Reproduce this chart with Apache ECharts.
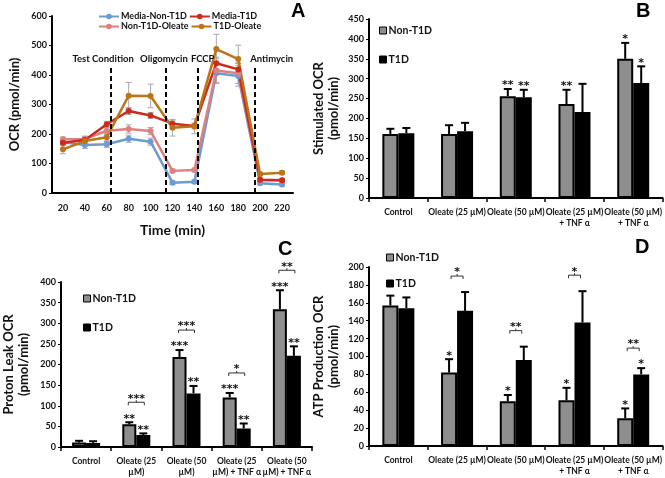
<!DOCTYPE html>
<html><head><meta charset="utf-8">
<script src="https://cdn.jsdelivr.net/npm/echarts@6/dist/echarts.min.js"></script>
<style>html,body{margin:0;padding:0;background:#fff}#c{width:665px;height:478px}</style>
</head><body><div id="c"></div>
<script>
// ---------- Panel A data ----------
const times = [20, 40, 60, 80, 100, 120, 140, 160, 180, 200, 220];
const mediaNonT1D   = [172, 163, 165, 184, 174, 35, 38, 406, 397, 33, 29];
const mediaT1D      = [170, 180, 233, 278, 263, 235, 227, 440, 419, 45, 43];
const nonT1DOleate  = [182, 183, 211, 217, 210, 75, 78, 415, 406, 44, 42];
const t1dOleate     = [148, 176, 189, 330, 329, 221, 226, 488, 454, 64, 69];
const errMediaNonT1D  = [8, 12, 10, 12, 12, 6, 6, 35, 35, 5, 5];
const errMediaT1D     = [8, 10, 10, 12, 10, 10, 10, 20, 20, 5, 5];
const errNonT1DOleate = [8, 10, 12, 14, 12, 6, 6, 40, 35, 5, 5];
const errT1dOleate    = [15, 12, 12, 45, 40, 28, 25, 50, 47, 6, 6];
const phaseTimes = [64, 114, 143, 195];
const phaseNames = ['Test Condition', 'Oligomycin', 'FCCP', 'Antimycin'];
const phaseLineTop = 425;

// ---------- Bar panels ----------
const conditions = ['Control', 'Oleate (25 µM)', 'Oleate (50 µM)', 'Oleate (25 µM)\n+ TNF α', 'Oleate (50 µM)\n+ TNF α'];
const conditionsC = ['Control', 'Oleate (25\nµM)', 'Oleate (50\nµM)', 'Oleate (25\nµM) + TNF α', 'Oleate (50\nµM) + TNF α'];

// B: Stimulated OCR
const stimNonT1D = [161, 161, 256, 236, 350];
const stimT1D    = [163, 168, 253, 216, 289];
const stimErrNon = [13, 22, 18, 36, 40];
const stimErrT1D = [13, 21, 19, 71, 42];
const stimStarsNon = ['', '', '**', '**', '*'];
const stimStarsT1D = ['', '', '**', '', '*'];

// C: Proton leak OCR
const leakNonT1D = [11, 55, 218, 120, 334];
const leakT1D    = [10, 29, 130, 45, 221];
const leakErrNon = [4, 5, 17, 11, 46];
const leakErrT1D = [4, 4, 18, 12, 23];
const leakStarsNon = ['', '**', '***', '***', '***'];
const leakStarsT1D = ['', '**', '**', '**', '**'];
const leakBrackets = ['', '***', '***', '*', '**'];

// D: ATP production OCR
const atpNonT1D = [157, 82, 50, 51, 31];
const atpT1D    = [154, 151, 96, 138, 80];
const atpErrNon = [11, 15, 7, 14, 11];
const atpErrT1D = [12, 21, 15, 35, 7];
const atpStarsNon = ['', '*', '*', '*', '*'];
const atpStarsT1D = ['', '', '', '', '*'];
const atpBrackets = ['', '*', '**', '*', '**'];

// ---------- styles ----------
const FONT = 'Lato';
const STAR_FONT = 'bold 11px "DejaVu Sans"';
const C_BLUE = '#6a9bd2', C_RED = '#cc2a1c', C_PINK = '#df8080', C_BROWN = '#bd7418';
const GRAY = '#8e8e8e';

function lineSeries(name, vals, color) {
  return {
    type: 'line', name, xAxisIndex: 0, yAxisIndex: 0, z: 3,
    data: times.map((t, i) => [t, vals[i]]),
    symbol: 'circle', symbolSize: 6,
    lineStyle: { color, width: 2.5 }, itemStyle: { color }
  };
}
function lineErr(vals, errs) {
  return {
    type: 'custom', xAxisIndex: 0, yAxisIndex: 0, z: 2, silent: true,
    data: times.map((t, i) => [t, vals[i] - errs[i], vals[i] + errs[i]]),
    renderItem(params, api) {
      const lo = api.coord([api.value(0), api.value(1)]);
      const hi = api.coord([api.value(0), api.value(2)]);
      const st = { stroke: '#a9a9a9', lineWidth: 1 };
      return { type: 'group', children: [
        { type: 'line', shape: { x1: lo[0], y1: lo[1], x2: hi[0], y2: hi[1] }, style: st },
        { type: 'line', shape: { x1: hi[0] - 3, y1: hi[1], x2: hi[0] + 3, y2: hi[1] }, style: st },
        { type: 'line', shape: { x1: lo[0] - 3, y1: lo[1], x2: lo[0] + 3, y2: lo[1] }, style: st }
      ]};
    }
  };
}

function barSeries(name, ax, vals, color, bw) {
  return {
    type: 'bar', name, xAxisIndex: ax, yAxisIndex: ax, data: vals,
    barWidth: bw, barGap: '0%',
    itemStyle: { color, borderColor: '#000', borderWidth: 2 }
  };
}
function barErr(ax, vals, errs, stars, offset) {
  return {
    type: 'custom', xAxisIndex: ax, yAxisIndex: ax, z: 5, silent: true,
    data: vals.map((v, i) => [i, v, v + errs[i]]),
    renderItem(params, api) {
      const b = api.coord([api.value(0), api.value(1)]);
      const t = api.coord([api.value(0), api.value(2)]);
      const x = b[0] + offset;
      const st = { stroke: '#000', lineWidth: 2 };
      const ch = [
        { type: 'line', shape: { x1: x, y1: b[1], x2: x, y2: t[1] }, style: st },
        { type: 'line', shape: { x1: x - 4, y1: t[1], x2: x + 4, y2: t[1] }, style: st }
      ];
      const s = stars[params.dataIndex];
      if (s) ch.push({ type: 'text', x: x, y: t[1] + 2,
        style: { text: s, textAlign: 'center', textVerticalAlign: 'bottom', font: STAR_FONT, fill: '#111' } });
      return { type: 'group', children: ch };
    }
  };
}
function bracketSeries(ax, non, errN, starN, t1d, errT, starT, texts, half) {
  return {
    type: 'custom', xAxisIndex: ax, yAxisIndex: ax, z: 6, silent: true,
    data: non.map((v, i) => [i, v + errN[i], t1d[i] + errT[i]]),
    renderItem(params, api) {
      const i = params.dataIndex;
      if (!texts[i]) return null;
      const a = api.coord([i, api.value(1)]);
      const b = api.coord([i, api.value(2)]);
      const ha = a[1] - (starN[i] ? 17 : 0);
      const hb = b[1] - (starT[i] ? 17 : 0);
      const starred = ha < hb ? !!starN[i] : !!starT[i];
      const y = Math.min(ha, hb) - (starred ? 3 : 16);
      const xc = a[0];
      const st = { stroke: '#333', lineWidth: 1, fill: null };
      return { type: 'group', children: [
        { type: 'polyline', shape: { points: [[xc - half, y + 3], [xc - half, y], [xc + half, y], [xc + half, y + 3]] }, style: st },
        { type: 'line', shape: { x1: xc, y1: y, x2: xc, y2: y - 2 }, style: st },
        { type: 'text', x: xc, y: y + 2, style: { text: texts[i], textAlign: 'center', textVerticalAlign: 'bottom', font: STAR_FONT, fill: '#111' } }
      ]};
    }
  };
}

const axisText = { color: '#111', fontWeight: 'bold', fontFamily: FONT };
function yAx(grid, max, interval, name, gap) {
  return {
    type: 'value', gridIndex: grid, min: 0, max, interval,
    name, nameLocation: 'middle', nameGap: gap,
    nameTextStyle: { color: '#111', fontWeight: 'bold', fontFamily: FONT, fontSize: 13, lineHeight: 15 },
    axisLine: { show: true, lineStyle: { color: '#000', width: 2 } },
    axisTick: { show: true, length: 3, lineStyle: { color: '#000' } },
    splitLine: { show: false },
    axisLabel: Object.assign({ fontSize: 9, margin: 5 }, axisText)
  };
}
function xCat(grid, cats) {
  return {
    type: 'category', gridIndex: grid, data: cats,
    axisLine: { lineStyle: { color: '#000', width: 2 } },
    axisTick: { show: true, length: 4, lineStyle: { color: '#000', width: 1.5 } },
    axisLabel: Object.assign({ fontSize: 8.5, interval: 0, margin: 9, lineHeight: 11 }, axisText)
  };
}
function barLegend(left, top, gap) {
  return {
    data: ['Non-T1D', 'T1D'], orient: 'vertical', left, top, itemGap: gap,
    itemWidth: 7, itemHeight: 7, icon: 'rect', itemStyle: { borderWidth: 1 },
    textStyle: { fontSize: 10.5, fontWeight: 'bold', fontFamily: FONT, color: '#111', padding: [0, 0, 0, -3] }
  };
}

const markLineData = phaseTimes.map((t, i) => [
  { coord: [t, 0], symbol: 'none' },
  { coord: [t, phaseLineTop], symbol: 'none',
    label: { show: true, position: 'end', formatter: phaseNames[i], offset: [[-8, -2, 5, 17][i], 0] } }
]);

const legendText = { fontSize: 9, fontWeight: 'bold', fontFamily: FONT, color: '#111', width: 84, padding: [0, 0, 0, -3] };

const option = {
  animation: false,
  textStyle: { fontFamily: FONT },
  graphic: [
    { type: 'text', left: 291, top: 1, style: { text: 'A', font: 'bold 20px "Liberation Sans"', fill: '#000' } },
    { type: 'text', left: 636, top: 1, style: { text: 'B', font: 'bold 20px "Liberation Sans"', fill: '#000' } },
    { type: 'text', left: 278, top: 239, style: { text: 'C', font: 'bold 20px "Liberation Sans"', fill: '#000' } },
    { type: 'text', left: 635, top: 237, style: { text: 'D', font: 'bold 20px "Liberation Sans"', fill: '#000' } }
  ],
  legend: [
    { data: ['Media-Non-T1D', 'Media-T1D'], left: 93, top: 7, itemWidth: 20, itemHeight: 7, itemGap: 2, textStyle: legendText },
    { data: ['Non-T1D-Oleate', 'T1D-Oleate'], left: 93, top: 17, itemWidth: 20, itemHeight: 7, itemGap: 2, textStyle: legendText },
    barLegend(374, 20, 18),
    barLegend(78, 288, 18),
    barLegend(381, 247, 15)
  ],
  grid: [
    { left: 52, top: 16, width: 241, height: 177 },
    { left: 369, top: 19, width: 294, height: 179 },
    { left: 60, top: 282, width: 252, height: 165 },
    { left: 369, top: 267, width: 294, height: 179 }
  ],
  xAxis: [
    { type: 'value', gridIndex: 0, min: 10, max: 230, interval: 10,
      name: 'Time (min)', nameLocation: 'middle', nameGap: 30,
      nameTextStyle: { color: '#111', fontWeight: 'bold', fontFamily: FONT, fontSize: 14 },
      axisLine: { lineStyle: { color: '#000', width: 2 } }, axisTick: { show: false }, splitLine: { show: false },
      axisLabel: Object.assign({ fontSize: 9, margin: 11,
        formatter: v => (v % 20 === 0 && v >= 20 && v <= 220) ? String(v) : '' }, axisText) },
    xCat(1, conditions),
    xCat(2, conditionsC),
    xCat(3, conditions)
  ],
  yAxis: [
    yAx(0, 600, 100, 'OCR (pmol/min)', 30),
    yAx(1, 450, 50, 'Stimulated OCR\n(pmol/min)', 28),
    yAx(2, 400, 50, 'Proton Leak OCR\n(pmol/min)', 30),
    yAx(3, 200, 20, 'ATP Production OCR\n(pmol/min)', 28)
  ],
  series: [
    lineErr(mediaNonT1D, errMediaNonT1D),
    lineErr(mediaT1D, errMediaT1D),
    lineErr(nonT1DOleate, errNonT1DOleate),
    lineErr(t1dOleate, errT1dOleate),
    lineSeries('Media-Non-T1D', mediaNonT1D, C_BLUE),
    lineSeries('Non-T1D-Oleate', nonT1DOleate, C_PINK),
    lineSeries('Media-T1D', mediaT1D, C_RED),
    Object.assign(lineSeries('T1D-Oleate', t1dOleate, C_BROWN), {
      markLine: { silent: true, symbol: 'none', animation: false,
        lineStyle: { color: '#000', type: [5, 3], width: 2 },
        label: { color: '#111', fontWeight: 'bold', fontSize: 9.5, fontFamily: FONT, distance: 4 },
        data: markLineData }
    }),
    barSeries('Non-T1D', 1, stimNonT1D, GRAY, 16),
    barSeries('T1D', 1, stimT1D, '#000', 16),
    barErr(1, stimNonT1D, stimErrNon, stimStarsNon, -8),
    barErr(1, stimT1D, stimErrT1D, stimStarsT1D, 8),
    barSeries('Non-T1D', 2, leakNonT1D, GRAY, 14),
    barSeries('T1D', 2, leakT1D, '#000', 14),
    barErr(2, leakNonT1D, leakErrNon, leakStarsNon, -7),
    barErr(2, leakT1D, leakErrT1D, leakStarsT1D, 7),
    bracketSeries(2, leakNonT1D, leakErrNon, leakStarsNon, leakT1D, leakErrT1D, leakStarsT1D, leakBrackets, 8),
    barSeries('Non-T1D', 3, atpNonT1D, GRAY, 16),
    barSeries('T1D', 3, atpT1D, '#000', 16),
    barErr(3, atpNonT1D, atpErrNon, atpStarsNon, -8),
    barErr(3, atpT1D, atpErrT1D, atpStarsT1D, 8),
    bracketSeries(3, atpNonT1D, atpErrNon, atpStarsNon, atpT1D, atpErrT1D, atpStarsT1D, atpBrackets, 6)
  ]
};
const chart = echarts.init(document.getElementById('c'));
chart.setOption(option);
</script></body></html>
